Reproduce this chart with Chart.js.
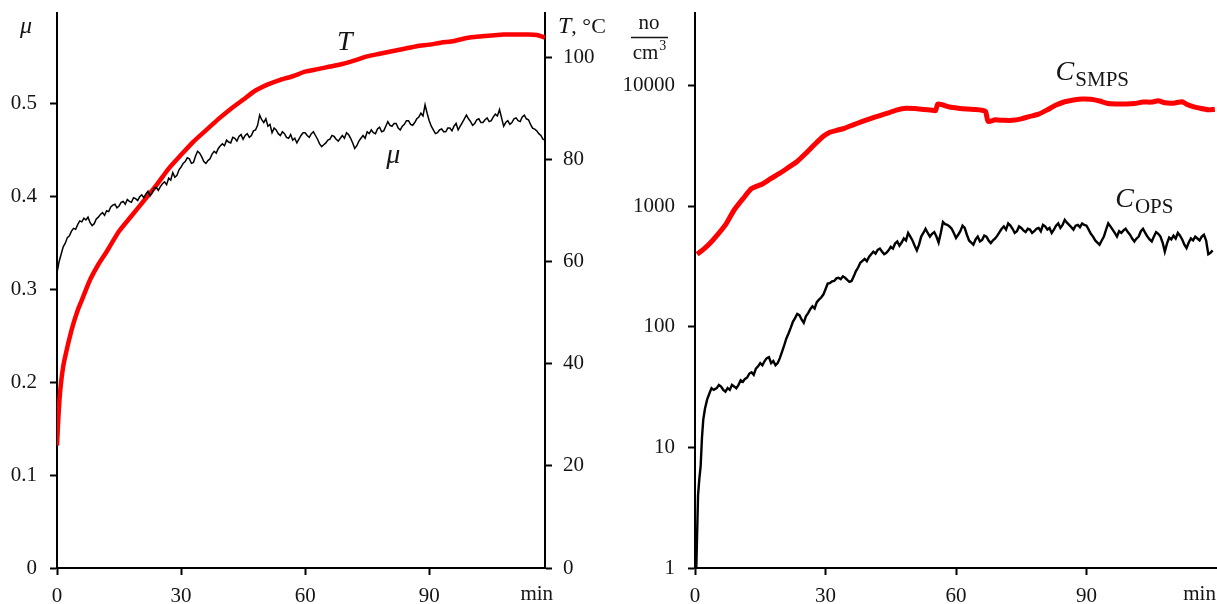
<!DOCTYPE html>
<html>
<head>
<meta charset="utf-8">
<script src="https://cdn.jsdelivr.net/npm/chart.js@4.4.1/dist/chart.umd.min.js"></script>
<style>
  html, body { margin: 0; padding: 0; background: #fff; }
  #wrap { position: relative; width: 1217px; height: 604px; }
  #left { position: absolute; left: 0; top: 0; }
  #right { position: absolute; left: 610px; top: 0; }
</style>
</head>
<body>
<div id="wrap">
  <canvas id="left" width="610" height="604"></canvas>
  <canvas id="right" width="607" height="604"></canvas>
</div>
<script>
// --- data ---

// left panel: friction coefficient (every half minute) and temperature
const muMinutes = [0,0.5,1,1.5,2,2.5,3,3.5,4,4.5,5,5.5,6,6.5,7,7.5,8,8.5,9,9.5,10,10.5,11,11.5,12,12.5,13,13.5,14,14.5,
  15,15.5,16,16.5,17,17.5,18,18.5,19,19.5,20,20.5,21,21.5,22,22.5,23,23.5,24,24.5,25,25.5,26,26.5,27,27.5,28,28.5,29,29.5,
  30,30.5,31,31.5,32,32.5,33,33.5,34,34.5,35,35.5,36,36.5,37,37.5,38,38.5,39,39.5,40,40.5,41,41.5,42,42.5,43,43.5,44,44.5,
  45,45.5,46,46.5,47,47.5,48,48.5,49,49.5,50,50.5,51,51.5,52,52.5,53,53.5,54,54.5,55,55.5,56,56.5,57,57.5,58,58.5,59,59.5,
  60,60.5,61,61.5,62,62.5,63,63.5,64,64.5,65,65.5,66,66.5,67,67.5,68,68.5,69,69.5,70,70.5,71,71.5,72,72.5,73,73.5,74,74.5,
  75,75.5,76,76.5,77,77.5,78,78.5,79,79.5,80,80.5,81,81.5,82,82.5,83,83.5,84,84.5,85,85.5,86,86.5,87,87.5,88,88.5,89,89.5,
  90,90.5,91,91.5,92,92.5,93,93.5,94,94.5,95,95.5,96,96.5,97,97.5,98,98.5,99,99.5,100,100.5,101,101.5,102,102.5,103,103.5,104,104.5,
  105,105.5,106,106.5,107,107.5,108,108.5,109,109.5,110,110.5,111,111.5,112,112.5,113,113.5,114,114.5,115,115.5,116,116.5,117,117.5,118];
const muValues = [0.318,0.330,0.338,0.346,0.350,0.356,0.358,0.363,0.366,0.365,0.370,0.374,0.373,0.377,0.375,0.378,0.372,0.369,0.371,0.376,
  0.378,0.381,0.383,0.380,0.385,0.384,0.389,0.391,0.392,0.388,0.390,0.394,0.395,0.392,0.397,0.395,0.394,0.399,0.398,0.396,
  0.400,0.402,0.399,0.403,0.406,0.401,0.404,0.409,0.410,0.407,0.411,0.414,0.416,0.413,0.420,0.418,0.426,0.421,0.423,0.429,
  0.432,0.436,0.438,0.442,0.441,0.436,0.437,0.444,0.449,0.447,0.443,0.438,0.436,0.439,0.441,0.446,0.449,0.447,0.452,0.455,
  0.457,0.455,0.461,0.459,0.458,0.464,0.463,0.460,0.465,0.467,0.462,0.466,0.468,0.464,0.466,0.471,0.472,0.477,0.488,0.483,
  0.480,0.484,0.476,0.478,0.469,0.474,0.472,0.468,0.466,0.470,0.468,0.464,0.463,0.467,0.461,0.463,0.458,0.462,0.466,0.469,
  0.469,0.466,0.464,0.468,0.470,0.466,0.462,0.457,0.454,0.456,0.458,0.461,0.462,0.466,0.465,0.462,0.460,0.463,0.466,0.463,
  0.469,0.467,0.463,0.458,0.452,0.455,0.460,0.463,0.466,0.463,0.470,0.468,0.472,0.469,0.468,0.473,0.475,0.470,0.471,0.476,
  0.481,0.477,0.476,0.479,0.479,0.474,0.472,0.476,0.478,0.482,0.482,0.478,0.477,0.480,0.484,0.486,0.490,0.487,0.499,0.490,
  0.482,0.476,0.472,0.468,0.469,0.472,0.473,0.470,0.470,0.474,0.474,0.471,0.476,0.479,0.472,0.476,0.480,0.484,0.488,0.484,
  0.481,0.477,0.479,0.483,0.484,0.480,0.480,0.483,0.485,0.481,0.482,0.486,0.489,0.487,0.494,0.485,0.476,0.480,0.482,0.478,
  0.480,0.484,0.485,0.482,0.481,0.486,0.488,0.484,0.483,0.478,0.474,0.473,0.471,0.468,0.466,0.462,0.461];

const tempMinutes = [0,0.3,0.6,1,1.5,2,3,4,5,6,8,10,12,15,18,21,24,27,30,33,36,39,42,45,48,51,54,57,60,63,
  66,69,72,75,78,81,84,87,90,93,96,99,102,105,108,111,114,116,118];
const tempValues = [24,29,33,36.5,39.5,41.5,45,48,50.5,52.5,56.5,59.5,62,66,69,72,75,78.3,81,83.6,85.8,88,90,91.8,93.6,94.8,95.7,96.4,97.3,97.8,
  98.3,98.8,99.5,100.3,100.8,101.3,101.8,102.3,102.6,103.0,103.3,103.9,104.2,104.4,104.6,104.6,104.6,104.5,104.0];

// right panel: particle number concentrations, no/cm3
const smpsMinutes = [0.5,2,3.5,5,7,9,11,13,15.5,17.5,19.5,21.5,23.5,25.5,27.5,29.5,31,32.5,34.5,36.5,38.5,40.5,42.5,44.5,46.5,48.5,50.5,52.5,54.5,55.3,
  55.8,57,58.5,60.5,62.5,64.5,66,66.8,67.4,69,71,73,75,77,79,81,83,85,87,89,91,93,95,97,99,101,103,105,106.5,108,
  110,112,113,114.5,116,118,119.5];
const smpsValues = [400,440,495,570,700,930,1150,1400,1530,1700,1880,2100,2350,2750,3250,3800,4100,4250,4450,4750,5050,5350,5650,5950,6300,6500,6450,6350,6250,6200,
  7050,6900,6650,6500,6400,6350,6250,6100,5050,5200,5150,5150,5300,5550,5800,6300,6900,7350,7600,7750,7700,7450,7100,7050,7050,7100,7300,7300,7500,7200,
  7150,7350,7000,6700,6500,6300,6350];

const opsMinutes = [0.3,0.7,1,1.3,1.6,1.9,2.3,2.8,3.3,3.8,4.3,
  5,5.5,6,6.5,7,7.5,8,8.5,9,9.5,10,10.5,11,11.5,12,12.5,13,13.5,14,14.5,15,15.5,16,16.5,17,17.5,18,18.5,19,19.5,
  20,20.5,21,21.5,22,22.5,23,23.5,24,24.5,25,25.5,26,26.5,27,27.5,28,28.5,29,29.5,30,30.5,31,31.5,32,32.5,33,33.5,34,34.5,
  35,35.5,36,36.5,37,37.5,38,38.5,39,39.5,40,40.5,41,41.5,42,42.5,43,43.5,44,44.5,45,45.5,46,46.5,47,47.5,48,48.5,49,49.5,
  50,50.5,51,51.5,52,52.5,53,53.5,54,54.5,55,55.5,56,56.5,57,57.5,58,58.5,59,59.5,60,60.5,61,61.5,62,62.5,63,63.5,64,64.5,
  65,65.5,66,66.5,67,67.5,68,68.5,69,69.5,70,70.5,71,71.5,72,72.5,73,73.5,74,74.5,75,75.5,76,76.5,77,77.5,78,78.5,79,79.5,
  80,80.5,81,81.5,82,82.5,83,83.5,84,84.5,85,85.5,86,86.5,87,87.5,88,88.5,89,89.5,90,90.5,91,91.5,92,92.5,93,93.5,94,94.5,
  95,95.5,96,96.5,97,97.5,98,98.5,99,99.5,100,100.5,101,101.5,102,102.5,103,103.5,104,104.5,105,105.5,106,106.5,107,107.5,108,108.5,109,109.5,
  110,110.5,111,111.5,112,112.5,113,113.5,114,114.5,115,115.5,116,116.5,117,117.5,118,118.5,119];
const opsValues = [1,4,5.5,7,12,17,21,25,28,31,30,
  31,33,32,30,29,31,30,33,32,31,33,36,35,37,38,41,42,40,45,47,50,48,52,55,56,50,52,48,50,55,
  62,70,80,88,98,110,118,128,125,115,108,122,130,140,148,142,160,168,175,185,205,228,230,238,240,252,255,248,262,255,
  245,236,240,262,290,310,340,352,365,350,380,400,420,405,435,445,420,400,410,430,460,445,490,510,470,500,540,520,600,560,
  520,470,430,480,560,600,650,600,560,590,610,560,500,600,740,710,700,680,650,600,545,580,620,690,660,580,520,500,480,530,
  560,510,525,570,560,520,495,520,540,570,610,650,680,640,720,690,650,600,620,680,660,630,610,650,640,600,620,650,660,620,
  700,680,640,660,600,640,690,720,660,700,770,730,700,670,640,690,700,670,720,700,690,640,590,560,520,500,480,520,560,640,
  720,680,640,600,560,620,600,630,650,610,580,540,510,540,560,620,650,600,560,530,510,560,610,590,560,500,420,490,550,530,
  570,540,600,570,530,480,450,500,540,520,560,540,520,560,580,520,400,410,430];

// tick labels
const minuteTicks = [0, 30, 60, 90];
const muTicks = [0, 0.1, 0.2, 0.3, 0.4, 0.5];
const tempTicks = [0, 20, 40, 60, 80, 100];
const concTicks = [1, 10, 100, 1000, 10000];

// --- helpers ---
const FONT = "'Liberation Serif', serif";
const INK = '#151515';
const pairs = (xs, ys) => xs.map((x, i) => ({ x: x, y: ys[i] }));
const fixedTicks = list => scale => { scale.ticks = list.map(v => ({ value: v })); };
// fixed axis thickness, and no extra room for half tick labels
const fitTo = (key, px) => s => { s[key] = px; s.paddingTop = 0; s.paddingBottom = 0; s.paddingLeft = 0; s.paddingRight = 0; };

function axis(extra) {
  return Object.assign({
    grid: { display: true, drawOnChartArea: false, drawTicks: true, tickLength: 7, tickWidth: 2, tickColor: '#000' },
    border: { display: true, color: '#000', width: 2 },
  }, extra);
}
function tickFont(pad) {
  return { color: INK, font: { family: FONT, size: 21 }, padding: pad, callback: v => String(v) };
}

Chart.defaults.animation = false;

// --- left chart ---
new Chart(document.getElementById('left'), {
  type: 'line',
  data: {
    datasets: [
      { label: 'μ', data: pairs(muMinutes, muValues), yAxisID: 'yMu',
        borderColor: '#000', borderWidth: 1.5, pointRadius: 0, tension: 0 },
      { label: 'T', data: pairs(tempMinutes, tempValues), yAxisID: 'yT',
        borderColor: '#ff0000', borderWidth: 4.5, pointRadius: 0, tension: 0.2 },
    ],
  },
  options: {
    responsive: false,
    devicePixelRatio: 1,
    layout: { padding: { top: 13, left: 0, right: 0, bottom: 0 } },
    plugins: { legend: { display: false }, tooltip: { enabled: false } },
    scales: {
      x: axis({ type: 'linear', min: 0, max: 118, ticks: tickFont(9),
        afterBuildTicks: fixedTicks(minuteTicks), afterFit: fitTo('height', 36) }),
      yMu: axis({ type: 'linear', position: 'left', min: 0, max: 0.598, ticks: tickFont(13),
        afterBuildTicks: fixedTicks(muTicks), afterFit: fitTo('width', 57) }),
      yT: axis({ type: 'linear', position: 'right', min: 0, max: 108.8, ticks: tickFont(11),
        afterBuildTicks: fixedTicks(tempTicks), afterFit: fitTo('width', 65) }),
    },
  },
  plugins: [{
    id: 'leftText',
    afterDraw(chart) {
      const { ctx, chartArea: a, scales: s } = chart;
      ctx.save();
      ctx.fillStyle = INK;
      ctx.textBaseline = 'alphabetic';
      // axis titles
      ctx.textAlign = 'center';
      ctx.font = `italic 24px ${FONT}`;
      ctx.fillText('μ', a.left - 31, 33);
      ctx.textAlign = 'left';
      const tx = a.right + 13;
      ctx.fillText('T', tx, 33);
      const tw = ctx.measureText('T').width;
      ctx.font = `22px ${FONT}`;
      ctx.fillText(', °C', tx + tw, 33);
      // curve labels
      ctx.textAlign = 'center';
      ctx.font = `italic 28px ${FONT}`;
      ctx.fillText('T', s.x.getPixelForValue(69.6), s.yT.getPixelForValue(101.5));
      ctx.fillText('μ', s.x.getPixelForValue(81.3), s.yMu.getPixelForValue(0.436));
      // unit on the time axis
      ctx.font = `21px ${FONT}`;
      ctx.textBaseline = 'top';
      ctx.fillText('min', s.x.getPixelForValue(116), a.bottom + 16);
      ctx.restore();
    },
  }],
});

// --- right chart ---
new Chart(document.getElementById('right'), {
  type: 'line',
  data: {
    datasets: [
      { label: 'C_OPS', data: pairs(opsMinutes, opsValues),
        borderColor: '#000', borderWidth: 2.4, pointRadius: 0, tension: 0 },
      { label: 'C_SMPS', data: pairs(smpsMinutes, smpsValues),
        borderColor: '#ff0000', borderWidth: 5, pointRadius: 0, tension: 0.2 },
    ],
  },
  options: {
    responsive: false,
    devicePixelRatio: 1,
    layout: { padding: { top: 13, left: 0, right: 0, bottom: 0 } },
    plugins: { legend: { display: false }, tooltip: { enabled: false } },
    scales: {
      x: axis({ type: 'linear', min: 0, max: 120, ticks: tickFont(9),
        afterBuildTicks: fixedTicks(minuteTicks), afterFit: fitTo('height', 36) }),
      y: axis({ type: 'logarithmic', position: 'left', min: 1, max: 40000, ticks: tickFont(13),
        afterBuildTicks: fixedTicks(concTicks), afterFit: fitTo('width', 85) }),
    },
  },
  plugins: [{
    id: 'rightText',
    afterDraw(chart) {
      const { ctx, chartArea: a, scales: s } = chart;
      ctx.save();
      ctx.fillStyle = INK;
      ctx.strokeStyle = INK;
      ctx.textBaseline = 'alphabetic';
      // unit: no / cm3
      const cx = a.left - 46;
      ctx.textAlign = 'center';
      ctx.font = `21px ${FONT}`;
      ctx.fillText('no', cx, 29);
      ctx.lineWidth = 1.3;
      ctx.beginPath();
      ctx.moveTo(cx - 18, 37.5);
      ctx.lineTo(cx + 19, 37.5);
      ctx.stroke();
      ctx.textAlign = 'left';
      const cmw = ctx.measureText('cm').width;
      ctx.fillText('cm', cx - (cmw + 7) / 2, 59);
      ctx.font = `14px ${FONT}`;
      ctx.fillText('3', cx - (cmw + 7) / 2 + cmw + 1, 50);
      // curve labels with subscripts
      const label = (main, sub, t, v) => {
        const x = s.x.getPixelForValue(t), y = s.y.getPixelForValue(v);
        ctx.font = `italic 28px ${FONT}`;
        ctx.fillText(main, x, y);
        const w = ctx.measureText(main).width;
        ctx.font = `21px ${FONT}`;
        ctx.fillText(sub, x + w + 1, y + 6);
      };
      label('C', 'SMPS', 82.9, 11150);
      label('C', 'OPS', 96.6, 985);
      // unit on the time axis
      ctx.textAlign = 'center';
      ctx.textBaseline = 'top';
      ctx.font = `21px ${FONT}`;
      ctx.fillText('min', s.x.getPixelForValue(116), a.bottom + 16);
      ctx.restore();
    },
  }],
});
</script>
</body>
</html>
